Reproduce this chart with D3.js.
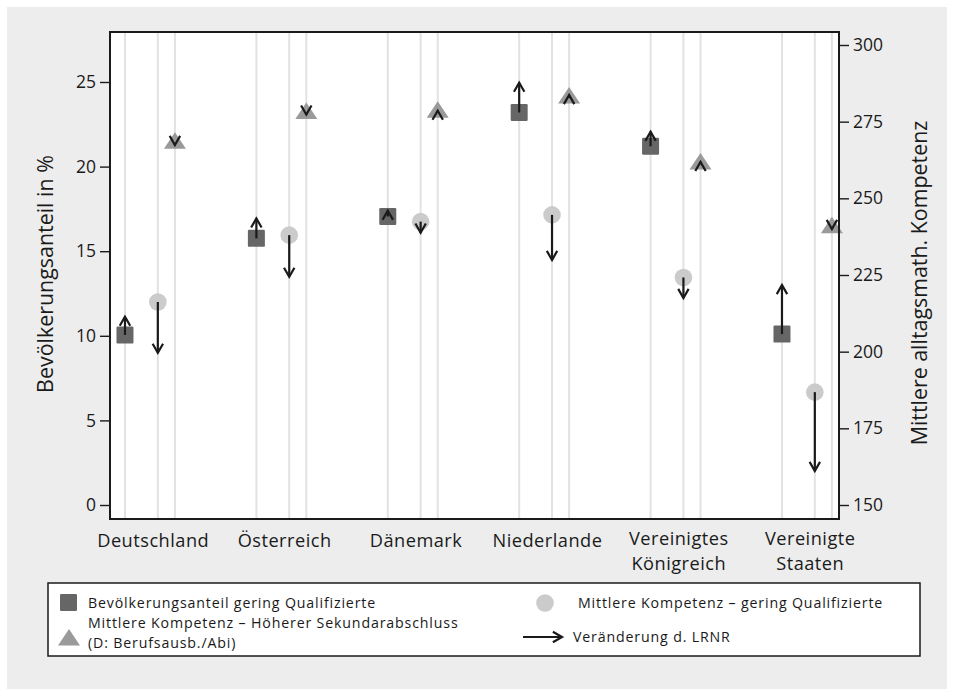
<!DOCTYPE html>
<html>
<head>
<meta charset="utf-8">
<script src="https://cdn.jsdelivr.net/npm/d3@7"></script>
<style>
  html, body { margin: 0; padding: 0; background: #ffffff; }
  svg { display: block; font-family: "Open Sans", Lato, sans-serif; }
</style>
</head>
<body>
<svg id="chart" width="954" height="696"></svg>
<script>
// ---- data ----
const countries = ["Deutschland", "Österreich", "Dänemark", "Niederlande", "Vereinigtes\nKönigreich", "Vereinigte\nStaaten"];
// share of low qualified (%), left axis
const shareLow = [10.05, 15.76, 17.05, 23.2, 21.2, 10.1];
const shareLowNew = [11.13, 16.94, 17.4, 24.96, 22.06, 13.0];
// mean competence low qualified, right axis
const compLow = [216.2, 238.0, 242.4, 244.6, 224.2, 186.8];
const compLowNew = [199.6, 224.4, 238.8, 229.9, 217.5, 161.1];
// mean competence higher secondary, right axis
const compHigh = [268.0, 277.7, 278.1, 282.7, 261.2, 240.4];
const compHighNew = [267.4, 277.3, 278.6, 283.7, 261.9, 240.0];
const leftTicks = [0, 5, 10, 15, 20, 25];
const rightTicks = [150, 175, 200, 225, 250, 275, 300];
const legendLabels = ["Bevölkerungsanteil gering Qualifizierte", "Mittlere Kompetenz – gering Qualifizierte",
  "Mittlere Kompetenz – Höherer Sekundarabschluss", "(D: Berufsausb./Abi)", "Veränderung d. LRNR"];
const leftTitle = "Bevölkerungsanteil in %";
const rightTitle = "Mittlere alltagsmath. Kompetenz";

// ---- layout ----
const svg = d3.select("#chart");
const plot = { left: 110, right: 839, top: 32, bottom: 519 };
const offsets = { square: 0, circle: 0.25, tri: 0.38, label: 0.215 };
const ink = "#1a1a1a";

function fitSize(sel, base, target) {
  sel.style("font-size", base + "px");
  const w = sel.node().getComputedTextLength();
  const s = base * target / w;
  sel.style("font-size", s + "px");
  return s;
}
function fitSpacing(sel, target) {
  const w = sel.node().getComputedTextLength();
  const n = sel.text().length;
  return (target - w) / n;
}

svg.append("rect").attr("x", 7).attr("y", 7).attr("width", 940).attr("height", 682).attr("fill", "#ededed");
svg.append("rect").attr("x", plot.left).attr("y", plot.top).attr("width", plot.right - plot.left)
  .attr("height", plot.bottom - plot.top).attr("fill", "#ffffff");

const x = d3.scaleLinear().domain([-0.114, 5.434]).range([plot.left, plot.right]);
const yL = d3.scaleLinear().domain([0, 25]).range([505, 82]);
const yR = d3.scaleLinear().domain([150, 300]).range([505, 45]);

// gridlines
const gridPos = [];
countries.forEach((c, i) => { ["square", "circle", "tri"].forEach(k => gridPos.push(i + offsets[k])); });
svg.append("g").selectAll("line").data(gridPos).join("line")
  .attr("x1", d => x(d)).attr("x2", d => x(d))
  .attr("y1", plot.top).attr("y2", plot.bottom)
  .attr("stroke", "#e2e2e2").attr("stroke-width", 2);

// markers
const gM = svg.append("g");
gM.selectAll("rect.sq").data(shareLow).join("rect").attr("class", "sq")
  .attr("x", (d, i) => x(i + offsets.square) - 8.5).attr("y", d => yL(d) - 8.5)
  .attr("width", 17).attr("height", 17).attr("rx", 1.2).attr("fill", "#666666");
gM.selectAll("circle").data(compLow).join("circle")
  .attr("cx", (d, i) => x(i + offsets.circle)).attr("cy", d => yR(d)).attr("r", 8.8)
  .attr("fill", "#cbcbcb");
const triPath = (cx, cy) => {
  const w = 11, hTop = 11, hBot = 5.5;
  return `M${cx},${cy - hTop}L${cx + w},${cy + hBot}L${cx - w},${cy + hBot}Z`;
};
gM.selectAll("path.tri").data(compHigh).join("path").attr("class", "tri")
  .attr("d", (d, i) => triPath(x(i + offsets.tri), yR(d))).attr("fill", "#9a9a9a");

// arrows
function drawArrow(g, x0, y0, x1, y1) {
  g.append("line").attr("x1", x0).attr("y1", y0).attr("x2", x1).attr("y2", y1)
    .attr("stroke", ink).attr("stroke-width", 2.2);
  const ang = Math.atan2(y1 - y0, x1 - x0);
  const len = 10.5, spread = 0.52;
  const p1 = [x1 - len * Math.cos(ang - spread), y1 - len * Math.sin(ang - spread)];
  const p2 = [x1 - len * Math.cos(ang + spread), y1 - len * Math.sin(ang + spread)];
  g.append("path").attr("d", `M${p1[0]},${p1[1]}L${x1},${y1}L${p2[0]},${p2[1]}`)
    .attr("fill", "none").attr("stroke", ink).attr("stroke-width", 2.2)
    .attr("stroke-linejoin", "miter");
}
function vArrow(g, xp, y0, y1) {
  const dir = y1 > y0 ? 1 : -1;
  drawArrow(g, xp, y0, xp, Math.abs(y1 - y0) < 1 ? y0 + dir : y1);
}
const gA = svg.append("g");
countries.forEach((c, i) => {
  vArrow(gA, x(i + offsets.square), yL(shareLow[i]), yL(shareLowNew[i]));
  vArrow(gA, x(i + offsets.circle), yR(compLow[i]), yR(compLowNew[i]));
  vArrow(gA, x(i + offsets.tri), yR(compHigh[i]), yR(compHighNew[i]));
});

// frame
svg.append("rect").attr("x", plot.left).attr("y", plot.top).attr("width", plot.right - plot.left)
  .attr("height", plot.bottom - plot.top).attr("fill", "none").attr("stroke", ink).attr("stroke-width", 2);

// axes
const axL = svg.append("g").attr("transform", `translate(${plot.left - 1},0)`)
  .call(d3.axisLeft(yL).tickValues(leftTicks).tickSize(9).tickPadding(4));
const axR = svg.append("g").attr("transform", `translate(${plot.right + 1},0)`)
  .call(d3.axisRight(yR).tickValues(rightTicks).tickSize(9).tickPadding(4));
[axL, axR].forEach(a => {
  a.select(".domain").remove();
  a.selectAll(".tick line").attr("stroke", ink).attr("stroke-width", 1.4);
  a.selectAll(".tick text").attr("fill", ink).style("font-size", "17.5px").style("font-family", "'Open Sans', sans-serif");
});

// country labels
const cSize = 18.2, cGap = 25;
const gC = svg.append("g");
const probe = gC.append("text").style("font-size", cSize + "px").text(countries[0]);
const cLS = fitSpacing(probe, 112);
probe.remove();
countries.forEach((c, i) => {
  const lines = c.split("\n");
  const t = gC.append("text").attr("x", x(i + offsets.label)).attr("y", lines.length > 1 ? 545 : 547)
    .attr("text-anchor", "middle").attr("fill", ink).style("font-size", cSize + "px")
    .style("letter-spacing", cLS + "px");
  lines.forEach((l, j) => t.append("tspan").attr("x", x(i + offsets.label)).attr("dy", j === 0 ? 0 : cGap).text(l));
});

// axis titles
const lt = svg.append("text").attr("transform", "translate(53,274) rotate(-90)").attr("text-anchor", "middle")
  .attr("fill", ink).text(leftTitle);
fitSize(lt, 19, 238);
const rt = svg.append("text").attr("transform", "translate(927,283) rotate(-90)").attr("text-anchor", "middle")
  .attr("fill", ink).text(rightTitle);
fitSize(rt, 19, 325);

// legend
const lSize = 14.2;
const lg = svg.append("g");
lg.append("rect").attr("x", 48).attr("y", 583).attr("width", 872).attr("height", 73)
  .attr("fill", "#ffffff").attr("stroke", ink).attr("stroke-width", 1.5);
lg.append("rect").attr("x", 60).attr("y", 594).attr("width", 17).attr("height", 17).attr("rx", 1.2).attr("fill", "#666666");
const l0 = lg.append("text").attr("x", 88).attr("y", 608).attr("fill", ink)
  .style("font-size", lSize + "px").text(legendLabels[0]);
const lLS = fitSpacing(l0, 288);
l0.style("letter-spacing", lLS + "px");
lg.append("circle").attr("cx", 545).attr("cy", 603).attr("r", 8.8).attr("fill", "#cbcbcb");
const legText = (xp, yp, s) => lg.append("text").attr("x", xp).attr("y", yp).attr("fill", ink)
  .style("font-size", lSize + "px").style("letter-spacing", lLS + "px").text(s);
legText(578, 608, legendLabels[1]);
lg.append("path").attr("d", triPath(69, 640)).attr("fill", "#9a9a9a");
legText(88, 628, legendLabels[2]);
legText(88, 648, legendLabels[3]);
drawArrow(lg, 523, 637, 562, 637);
legText(573, 642, legendLabels[4]);
</script>
</body>
</html>
